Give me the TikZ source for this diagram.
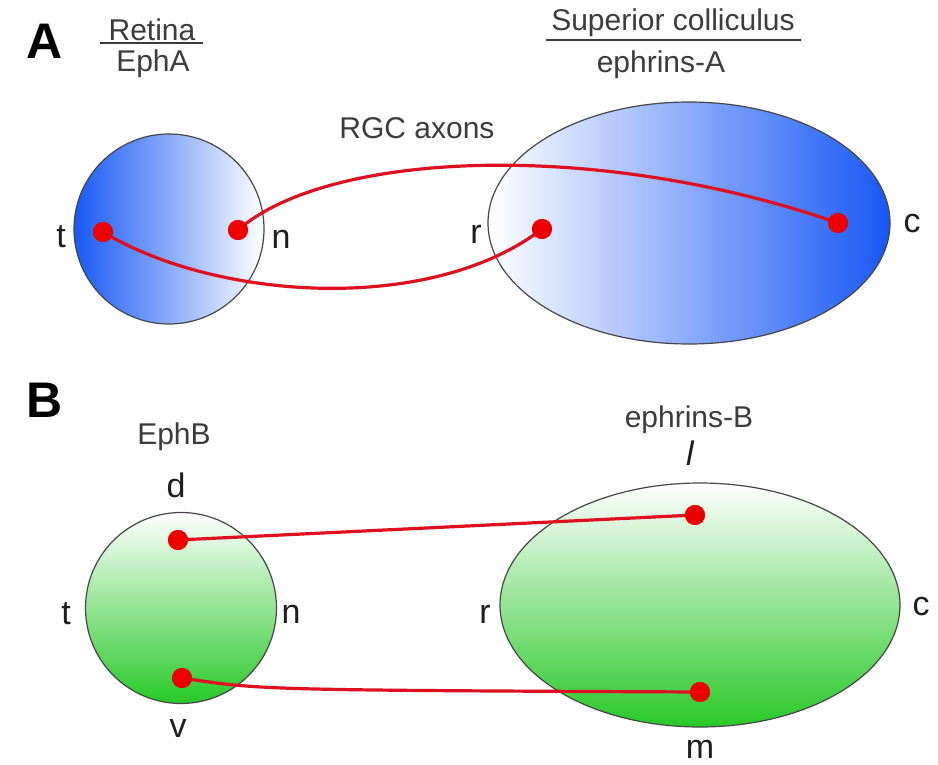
\documentclass[tikz,border=0pt]{standalone}
\usepackage{fontspec}
\setmainfont{Liberation Sans}
\usetikzlibrary{shapes.geometric}
\definecolor{axred}{RGB}{222,16,32}
\definecolor{dotred}{RGB}{236,0,0}
\definecolor{deepblue}{RGB}{24,88,245}
\definecolor{paleblue}{RGB}{196,206,252}
\definecolor{sgreen}{RGB}{40,200,40}
\definecolor{txtgray}{RGB}{60,60,60}
\tikzset{
  region/.style={draw={rgb,255:red,70;green,70;blue,70}, line width=1.2pt},
  axon/.style={draw=axred, line width=3.2pt},
  dot/.style={circle, fill=dotred, inner sep=0pt, minimum size=20pt},
  side/.style={inner sep=0pt, text={rgb,255:red,30;green,30;blue,30}, font=\fontsize{34}{40}\selectfont},
  lab/.style={inner sep=0pt, text=txtgray, font=\fontsize{30}{36}\selectfont},
  panel/.style={inner sep=0pt, font=\fontsize{50}{60}\selectfont\bfseries},
  uline/.style={draw=txtgray, line width=2pt}
}
\begin{document}
\begin{tikzpicture}[x=1pt,y=-1pt]
\useasboundingbox[fill=white] (0,0) rectangle (938,765);

% ---------- Panel A ----------
\node[panel] (A) at (45,41) {A};
\node[lab] (retina) at (152,30) {Retina};
\draw[uline] (100,43) coordinate (ru1) -- (203,43) coordinate (ru2);
\node[lab] (epha) at (153,64) {EphA};
\node[lab] (sc) at (673,23) {Superior colliculus};
\draw[uline] (546,40) coordinate (su1) -- (801,40) coordinate (su2);
\node[lab] (efa) at (661,65) {ephrins-A};
\node[lab] (rgc) at (417,128) {RGC axons};

\node[region, circle, minimum size=190pt, inner sep=0pt,
      left color=deepblue, middle color=paleblue!55!white, right color=white] (retA) at (169,229) {};
\node[region, ellipse, minimum width=402pt, minimum height=242pt, inner sep=0pt,
      left color=white, middle color=paleblue!90!deepblue, right color=deepblue] (scA) at (689,223) {};

\node[side] (tA) at (61,237) {t};
\node[side] (nA) at (281,239) {n};
\node[side] (rA) at (476,234) {r};
\node[side] (cA) at (912,224) {c};

\node[dot] (dt) at (103,232) {};
\node[dot] (dn) at (238,230) {};
\node[dot] (dr) at (542,229) {};
\node[dot] (dc) at (838,223) {};

\begin{scope}[on background layer/.style={}]
\end{scope}
\draw[axon] (dn.center) .. controls (330,150) and (600,140) .. (dc.center);
\draw[axon] (dt.center) .. controls (215,300) and (430,315) .. (dr.center);
\node[dot] at (dt) {};
\node[dot] at (dn) {};
\node[dot] at (dr) {};
\node[dot] at (dc) {};

% ---------- Panel B ----------
\node[panel] (B) at (45,400) {B};
\node[lab] (ephb) at (174,437) {EphB};
\node[lab] (efb) at (689,420) {ephrins-B};
\node[side] (dB) at (176,485) {d};
\node[side] (lB) at (690,453) {\itshape l};
\node[side] (vB) at (178,729) {v};
\node[side] (mB) at (700,749) {m};
\node[side] (tB) at (66,614) {t};
\node[side] (nB) at (291,614) {n};
\node[side] (rB) at (485,614) {r};
\node[side] (cB) at (921,607) {c};

\node[region, circle, minimum size=191pt, inner sep=0pt,
      top color=white, middle color=sgreen!30!white, bottom color=sgreen] (retB) at (181,608) {};
\node[region, ellipse, minimum width=400pt, minimum height=244pt, inner sep=0pt,
      top color=white, middle color=sgreen!35!white, bottom color=sgreen] (scB) at (700,605) {};

\node[dot] (dd) at (178,540) {};
\node[dot] (dv) at (182,678) {};
\node[dot] (dl) at (695,515) {};
\node[dot] (dm) at (700,692) {};
\draw[axon] (dd.center) -- (dl.center);
\draw[axon] (dv.center) .. controls (260,690) .. (dm.center);
\node[dot] at (dd) {};
\node[dot] at (dv) {};
\node[dot] at (dl) {};
\node[dot] at (dm) {};
\end{tikzpicture}
\end{document}
